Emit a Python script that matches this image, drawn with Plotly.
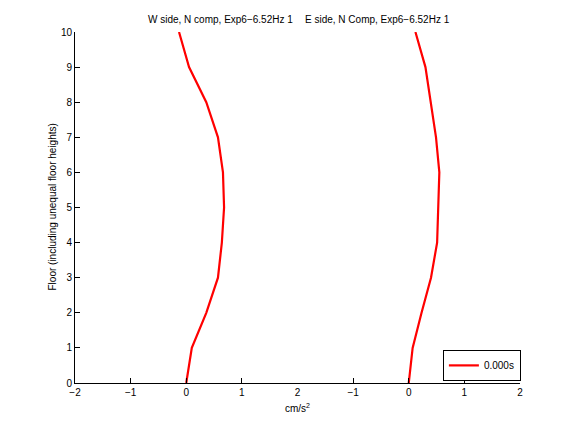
import plotly.graph_objects as go

# -----------------------------------------------------
# Data
# -----------------------------------------------------
floors = [0, 1, 2, 3, 4, 5, 6, 7, 8, 9, 10]

w_side = [0.00, 0.10, 0.36, 0.57, 0.64, 0.68, 0.66, 0.57, 0.36, 0.05, -0.13]
e_side = [0.00, 0.07, 0.23, 0.40, 0.51, 0.53, 0.55, 0.49, 0.40, 0.30, 0.12]

x_ticks_left = [-2, -1, 0, 1, 2]
x_ticks_right = [-1, 0, 1, 2]
y_ticks = list(range(0, 11))

RED = "#ff0000"
FONT = "Liberation Sans, Arial, sans-serif"

fig = go.Figure()

fig.add_trace(
    go.Scatter(
        x=w_side,
        y=floors,
        mode="lines",
        line=dict(color=RED, width=2.2),
        name="0.000s",
        showlegend=False,
        xaxis="x",
        yaxis="y",
    )
)

fig.add_trace(
    go.Scatter(
        x=e_side,
        y=floors,
        mode="lines",
        line=dict(color=RED, width=2.2),
        name="0.000s",
        showlegend=True,
        xaxis="x2",
        yaxis="y",
    )
)

axis_common = dict(
    showgrid=False,
    zeroline=False,
    showline=True,
    linecolor="black",
    linewidth=1,
    ticks="inside",
    ticklen=5,
    tickcolor="black",
    tickfont=dict(size=10, color="black", family=FONT),
)

fig.update_layout(
    width=576,
    height=432,
    margin=dict(l=75, r=56, t=32, b=49, autoexpand=False),
    paper_bgcolor="white",
    plot_bgcolor="white",
    font=dict(family=FONT, size=10, color="black"),
    xaxis=dict(
        domain=[0, 0.5],
        range=[-2, 2],
        tickvals=x_ticks_left,
        ticktext=["\u22122", "\u22121", "0", "1", "2"],
        anchor="y",
        **axis_common,
    ),
    xaxis2=dict(
        domain=[0.5, 1],
        range=[-2, 2],
        tickvals=x_ticks_right,
        ticktext=["\u22121", "0", "1", "2"],
        anchor="y",
        **axis_common,
    ),
    yaxis=dict(
        range=[0, 10],
        tickvals=y_ticks,
        **axis_common,
    ),
    legend=dict(
        x=1.002,
        y=0.006,
        xanchor="right",
        yanchor="bottom",
        bgcolor="white",
        bordercolor="black",
        borderwidth=1,
        font=dict(size=10, family=FONT),
        itemwidth=30,
        tracegroupgap=0,
    ),
    annotations=[
        dict(
            text="W side, N comp, Exp6\u22126.52Hz 1",
            xref="paper", yref="paper",
            x=0.326, y=1.0, yshift=5,
            xanchor="center", yanchor="bottom",
            showarrow=False,
            font=dict(size=10),
        ),
        dict(
            text="E side, N Comp, Exp6\u22126.52Hz 1",
            xref="paper", yref="paper",
            x=0.68, y=1.0, yshift=5,
            xanchor="center", yanchor="bottom",
            showarrow=False,
            font=dict(size=10),
        ),
        dict(
            text="cm/s<sup>2</sup>",
            xref="paper", yref="paper",
            x=0.5, y=0, yshift=-17,
            xanchor="center", yanchor="top",
            showarrow=False,
            font=dict(size=10),
        ),
        dict(
            text="Floor (including unequal floor heights)",
            xref="paper", yref="paper",
            x=0, xshift=-23, y=0.5,
            xanchor="center", yanchor="middle",
            textangle=-90,
            showarrow=False,
            font=dict(size=10),
        ),
    ],
)

# drop the browser's default body margin so the figure sits at 0,0
fig.write_html(
    "out.html",
    config={"displayModeBar": False},
    post_script="document.body.style.margin='0';",
)
